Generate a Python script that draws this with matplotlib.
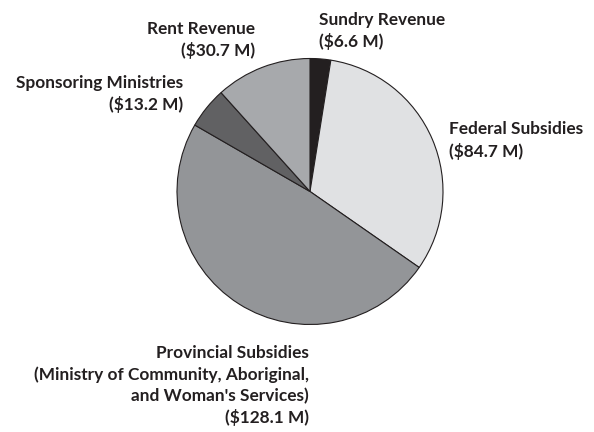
import matplotlib.pyplot as plt

# Revenue sources, clockwise from 12 o'clock
categories = ["Sundry Revenue", "Federal Subsidies", "Provincial Subsidies",
              "Sponsoring Ministries", "Rent Revenue"]
values = [6.6, 84.7, 128.1, 13.2, 30.7]
colors = ["#231f20", "#e0e1e3", "#939598", "#616163", "#a7a9ac"]

labels = [
    "Sundry Revenue\n($6.6 M)",
    "Federal Subsidies\n($84.7 M)",
    "Provincial Subsidies\n(Ministry of Community, Aboriginal,\nand Woman's Services)\n($128.1 M)",
    "Sponsoring Ministries\n($13.2 M)",
    "Rent Revenue\n($30.7 M)",
]

W, H = 594, 432
fig = plt.figure(figsize=(W / 100, H / 100), dpi=100)
ax = fig.add_axes([0, 0, 1, 1])

ax.pie(values, colors=colors, startangle=90, counterclock=False,
       center=(310, H - 191.5), radius=133, frame=True,
       wedgeprops=dict(edgecolor="#231f20", linewidth=0.8))
ax.set_xlim(0, W)
ax.set_ylim(0, H)
ax.axis("off")

font = dict(family=["Lato", "DejaVu Sans"], fontweight="bold",
            fontsize=12.4, color="#231f20", linespacing=1.37)

# label anchors (x, top y in pixels, alignment)
spots = [
    (319, 11.5, "left"),
    (449, 121.5, "left"),
    (309, 345, "right"),
    (183, 75, "right"),
    (255, 21, "right"),
]
for lab, (x, y, ha) in zip(labels, spots):
    ax.text(x, H - y, lab, ha=ha, va="top", multialignment=ha, **font)

fig.savefig("out.png", dpi=100)
